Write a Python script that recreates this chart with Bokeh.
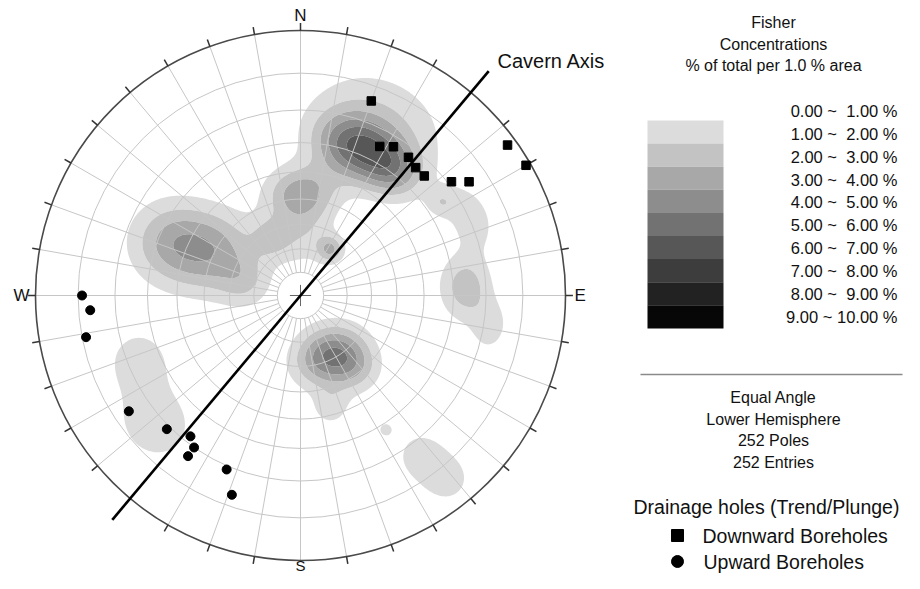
import numpy as np
from bokeh.plotting import figure
from bokeh.models import Range1d
from bokeh.core.properties import value
from bokeh.embed import file_html
from bokeh.resources import INLINE

# ---------------- data ----------------
level_bounds = [1, 2, 3, 4, 5, 6, 7, 8, 9, 10]
level_labels = ["0.00 ~ \u00a01.00 %", "1.00 ~ \u00a02.00 %", "2.00 ~ \u00a03.00 %",
                "3.00 ~ \u00a04.00 %", "4.00 ~ \u00a05.00 %", "5.00 ~ \u00a06.00 %",
                "6.00 ~ \u00a07.00 %", "7.00 ~ \u00a08.00 %", "8.00 ~ \u00a09.00 %",
                "9.00 ~ 10.00 %"]
level_colors = ["#dcdcdc", "#c3c3c3", "#a8a8a8", "#8d8d8d", "#727272",
                "#575757", "#3d3d3d", "#222222", "#070707"]

# Fisher concentration lobes (trend, plunge in degrees; peak %; spread radial/tangential)
blob_trend = [20.4, 36.1, 24.8, 0.0, 33.1, 0.0, 292.2, 296.8, 155.0, 142.6, 165.0,
              143.1, 141.4, 147.6, 87.2, 65.4, 99.6, 56.4, 248.4, 228.8, 283.3, 332.6]
blob_plunge = [28.4, 29.0, 18.6, 47.5, 66.6, 63.2, 34.2, 50.4, 62.0, 52.3, 42.7,
               15.9, 6.7, 28.2, 26.1, 19.6, 18.0, 25.2, 23.4, 17.9, 66.0, 62.4]
blob_peak = [5.0, 3.0, 1.8, 3.3, 2.8, 1.7, 3.0, 3.0, 4.8, 2.0, 1.5,
             1.35, 1.35, 1.3, 2.6, 1.6, 1.4, 1.4, 1.45, 1.6, 1.5, 1.6]
blob_sig_r = [0.085, 0.07, 0.14, 0.07, 0.035, 0.09, 0.11, 0.11, 0.076, 0.07, 0.05,
              0.08, 0.07, 0.022, 0.07, 0.06, 0.05, 0.04, 0.09, 0.11, 0.07, 0.05]
blob_sig_t = [0.110, 0.08, 0.19, 0.09, 0.035, 0.09, 0.11, 0.11, 0.092, 0.07, 0.05,
              0.08, 0.07, 0.022, 0.09, 0.09, 0.07, 0.04, 0.09, 0.12, 0.07, 0.05]

# Drainage holes (trend / plunge)
down_trend = [20, 28, 32, 38, 42, 46, 53, 56, 54, 60]
down_plunge = [14, 25, 23, 23, 24, 24, 19, 15, 2, 1]
up_trend = [270, 266, 259, 236, 225, 218, 215, 215, 203, 199]
up_plunge = [11, 13, 11, 14, 19, 22, 20, 17, 19, 13]

cavern_axis_trend = 40.0
plunge_circles = [10, 20, 30, 40, 50, 60, 70, 80]
compass = ["N", "E", "S", "W"]
title_lines = ["Fisher", "Concentrations", "% of total per 1.0 % area"]
info_lines = ["Equal Angle", "Lower Hemisphere", "252 Poles", "252 Entries"]
legend_title = "Drainage holes (Trend/Plunge)"
legend_items = ["Downward Boreholes", "Upward Boreholes"]


def stereo(trend, plunge):
    trend = np.asarray(trend, dtype=float)
    plunge = np.asarray(plunge, dtype=float)
    r = np.tan(np.radians(90.0 - plunge) / 2.0)
    t = np.radians(trend)
    return r * np.sin(t), r * np.cos(t)


# ---------------- layout ----------------
W, H = 904, 573
S = 265.0          # pixels per net radius
CX, CY = 300, 295  # net centre in figure pixels


def fx(px):  # figure pixel -> data x
    return (px - CX) / S


def fy(py):
    return (CY - py) / S


p = figure(width=W, height=H, x_range=Range1d(-CX / S, (W - CX) / S),
           y_range=Range1d(-(H - CY) / S, CY / S), output_backend="svg",
           toolbar_location=None, min_border=0, x_axis_type=None, y_axis_type=None,
           outline_line_color=None, background_fill_color="white")
p.grid.visible = False

FONT = value("Liberation Sans")
TXT = "#111111"

# ---------------- density contours ----------------
n = 481
gx = np.linspace(-1.0, 1.0, n)
gy = np.linspace(-1.0, 1.0, n)
X, Y = np.meshgrid(gx, gy)
Z = np.zeros_like(X)
bx, by = stereo(blob_trend, blob_plunge)
for cx, cy, pk, sr, st, tr in zip(bx, by, blob_peak, blob_sig_r, blob_sig_t, blob_trend):
    t = np.radians(tr)
    ux, uy = np.sin(t), np.cos(t)
    vx, vy = np.cos(t), -np.sin(t)
    dx, dy = X - cx, Y - cy
    dr = dx * ux + dy * uy
    dt = dx * vx + dy * vy
    Z += pk * np.exp(-0.5 * ((dr / sr) ** 2 + (dt / st) ** 2))
Z[X ** 2 + Y ** 2 > 1.0] = np.nan
p.contour(gx, gy, Z, levels=level_bounds, fill_color=level_colors)

# ---------------- polar net ----------------
grid_col = "#c6c6c6"
radii = [float(np.tan(np.radians(90 - pl) / 2)) for pl in plunge_circles]
p.circle(x=[0] * len(radii), y=[0] * len(radii), radius=radii, fill_color=None,
         line_color=grid_col, line_width=1)
az = np.radians(np.arange(0, 360, 10))
r0 = min(radii)
p.multi_line(xs=[[r0 * np.sin(a), np.sin(a)] for a in az],
             ys=[[r0 * np.cos(a), np.cos(a)] for a in az],
             line_color=grid_col, line_width=1)
c = 0.04
p.multi_line(xs=[[-c, c], [0, 0]], ys=[[0, 0], [-c, c]], line_color="#666666", line_width=1)
p.circle(x=[0], y=[0], radius=[1.0], fill_color=None, line_color="#4a4a4a", line_width=1.6)
tick = 1.028
tick_az = [a for a in az if abs(np.degrees(a) - 180) > 1]
p.multi_line(xs=[[np.sin(a), tick * np.sin(a)] for a in tick_az],
             ys=[[np.cos(a), tick * np.cos(a)] for a in tick_az],
             line_color="#333333", line_width=1.5)

# compass labels
p.text(x=[0], y=[fy(CY - 280)], text=[compass[0]], text_align="center", text_baseline="middle",
       text_font=FONT, text_font_size="17px", text_color=TXT)
p.text(x=[fx(CX + 274)], y=[0], text=[compass[1]], text_align="left", text_baseline="middle",
       text_font=FONT, text_font_size="17px", text_color=TXT)
p.text(x=[0], y=[fy(573)], text=[compass[2]], text_align="center", text_baseline="bottom",
       text_font=FONT, text_font_size="15px", text_color=TXT)
p.text(x=[fx(CX - 271)], y=[0], text=[compass[3]], text_align="right", text_baseline="middle",
       text_font=FONT, text_font_size="17px", text_color=TXT)

# cavern axis
ta = np.radians(cavern_axis_trend)
ext = 1.105
p.line(x=[-ext * np.sin(ta), ext * np.sin(ta)], y=[-ext * np.cos(ta), ext * np.cos(ta)],
       line_color="black", line_width=2.6)
p.text(x=[fx(497)], y=[fy(60)], text=["Cavern Axis"], text_align="left",
       text_baseline="middle", text_font=FONT, text_font_size="20px", text_color=TXT)

# boreholes
dxs, dys = stereo(down_trend, down_plunge)
uxs, uys = stereo(up_trend, up_plunge)
p.scatter(x=dxs, y=dys, marker="square", size=8.5, fill_color="black", line_color="black")
p.scatter(x=uxs, y=uys, marker="circle", size=9, fill_color="black", line_color="black")

# ---------------- legend ----------------
LCX = 773
p.text(x=[fx(LCX)] * 3, y=[fy(22), fy(43.5), fy(65)], text=title_lines, text_align="center",
       text_baseline="middle", text_font=FONT, text_font_size="16px", text_color=TXT)
row0, step = 110.5, 22.85
p.text(x=[fx(897)] * len(level_labels), y=[fy(row0 + i * step) for i in range(len(level_labels))],
       text=level_labels, text_align="right", text_baseline="middle", text_font=FONT,
       text_font_size="16.5px", text_color=TXT)
btop, bstep = 120.0, 23.1
p.quad(left=fx(647), right=fx(723),
       top=[fy(btop + i * bstep) for i in range(len(level_colors))],
       bottom=[fy(btop + (i + 1) * bstep) for i in range(len(level_colors))],
       fill_color=level_colors, line_color=None)

p.line(x=[fx(640), fx(902)], y=[fy(374), fy(374)], line_color="#8a8a8a", line_width=1.5)
p.text(x=[fx(LCX)] * 4, y=[fy(397), fy(418.5), fy(440), fy(462)], text=info_lines,
       text_align="center", text_baseline="middle", text_font=FONT, text_font_size="16px",
       text_color=TXT)

p.text(x=[fx(633)], y=[fy(506)], text=[legend_title], text_align="left", text_baseline="middle",
       text_font=FONT, text_font_size="19.5px", text_color=TXT)
p.scatter(x=[fx(677)], y=[fy(535)], marker="square", size=12, fill_color="black", line_color="black")
p.scatter(x=[fx(677)], y=[fy(561)], marker="circle", size=12, fill_color="black", line_color="black")
p.text(x=[fx(702), fx(703)], y=[fy(535), fy(561)], text=legend_items, text_align="left",
       text_baseline="middle", text_font=FONT, text_font_size="19.5px", text_color=TXT)

open("out.html", "w").write(file_html(p, INLINE))
